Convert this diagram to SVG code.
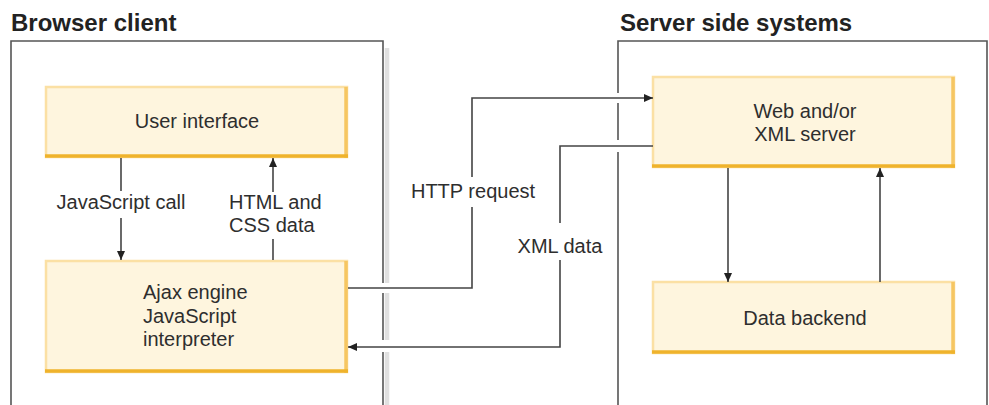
<svg xmlns="http://www.w3.org/2000/svg" width="989" height="405" viewBox="0 0 989 405">
  <style>
    .title { font-family: "Liberation Sans", Arial, sans-serif; font-weight: bold; font-size: 24px; fill: #222; }
    .lbl { font-family: "Liberation Sans", Arial, sans-serif; font-size: 20px; fill: #2e2e2e; }
    .mid { text-anchor: middle; }
    .frame { fill: none; stroke: #555; stroke-width: 1.6; }
    .shadow { fill: none; stroke: #e0e0e0; stroke-width: 4.5; }
    .box { fill: #fef5de; stroke: #fbe0a4; stroke-width: 2.5; }
    .edge-r { stroke: #f6c662; stroke-width: 3.5; }
    .edge-b { stroke: #efb32c; stroke-width: 3.5; }
    .wire { fill: none; stroke: #444; stroke-width: 1.6; }
  </style>
  <defs>
    <marker id="arrow" markerUnits="userSpaceOnUse" markerWidth="10" markerHeight="10" refX="9" refY="5" orient="auto">
      <path d="M0,1 L9,5 L0,9 Z" fill="#222"/>
    </marker>
  </defs>

  <rect width="989" height="405" fill="#ffffff"/>

  <!-- Browser client frame (gaps where connectors cross) -->
  <g id="browser-client">
    <text class="title" x="11" y="31">Browser client</text>
    <path class="shadow" d="M387,48 V283 M387,293 V340 M387,352 V405"/>
    <path class="frame" d="M11,405 V41 H383 V283 M383,293 V340 M383,352 V405"/>
  </g>

  <!-- Server side frame -->
  <g id="server-side">
    <text class="title" x="620" y="31">Server side systems</text>
    <path class="frame" d="M618,405 V152 M618,140 V103 M618,93 V41 H987 V405"/>
  </g>

  <g id="user-interface">
    <rect class="box" x="46" y="87" width="301" height="70"/>
    <line class="edge-r" x1="346" y1="87" x2="346" y2="158"/>
    <line class="edge-b" x1="45" y1="156" x2="348" y2="156"/>
    <text class="lbl mid" x="197" y="128">User interface</text>
  </g>

  <g id="ajax-engine">
    <rect class="box" x="46" y="261" width="301" height="111"/>
    <line class="edge-r" x1="346" y1="261" x2="346" y2="373"/>
    <line class="edge-b" x1="45" y1="371" x2="348" y2="371"/>
    <text class="lbl" x="143" y="299">Ajax engine</text>
    <text class="lbl" x="143" y="322.5">JavaScript</text>
    <text class="lbl" x="143" y="346">interpreter</text>
  </g>

  <g id="web-server">
    <rect class="box" x="653" y="77" width="301" height="90"/>
    <line class="edge-r" x1="953" y1="77" x2="953" y2="168"/>
    <line class="edge-b" x1="652" y1="166" x2="955" y2="166"/>
    <text class="lbl mid" x="805" y="118">Web and/or</text>
    <text class="lbl mid" x="805" y="140.5">XML server</text>
  </g>

  <g id="data-backend">
    <rect class="box" x="653" y="282" width="301" height="71"/>
    <line class="edge-r" x1="953" y1="282" x2="953" y2="354"/>
    <line class="edge-b" x1="652" y1="352" x2="955" y2="352"/>
    <text class="lbl mid" x="805" y="325">Data backend</text>
  </g>

  <g id="connectors">
    <!-- JavaScript call -->
    <path class="wire" d="M121,158 V191"/>
    <path class="wire" d="M121,218 V260" marker-end="url(#arrow)"/>
    <text class="lbl mid" x="121" y="209">JavaScript call</text>

    <!-- HTML and CSS data -->
    <path class="wire" d="M273,260 V239"/>
    <path class="wire" d="M273,192 V158" marker-end="url(#arrow)"/>
    <text class="lbl" x="229" y="208.5">HTML and</text>
    <text class="lbl" x="229" y="232">CSS data</text>

    <!-- HTTP request -->
    <path class="wire" d="M348,288 H472 V207"/>
    <path class="wire" d="M472,177 V98 H653" marker-end="url(#arrow)"/>
    <text class="lbl mid" x="473" y="198">HTTP request</text>

    <!-- XML data -->
    <path class="wire" d="M653,146 H560 V223"/>
    <path class="wire" d="M560,260 V347 H348" marker-end="url(#arrow)"/>
    <text class="lbl mid" x="560" y="253">XML data</text>

    <!-- server to backend -->
    <path class="wire" d="M728,168 V282" marker-end="url(#arrow)"/>
    <path class="wire" d="M880,282 V168" marker-end="url(#arrow)"/>
  </g>
</svg>
